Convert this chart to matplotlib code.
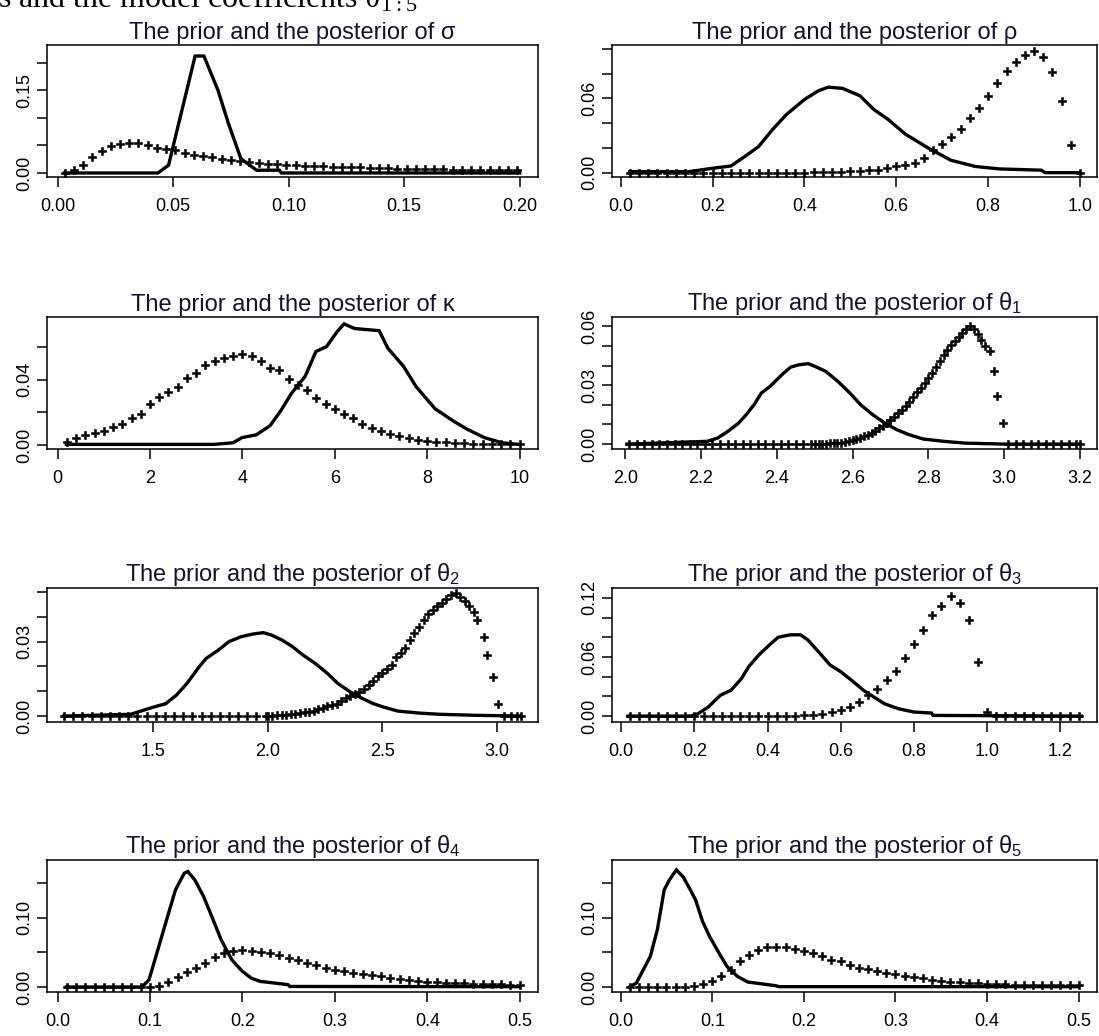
import matplotlib
matplotlib.use("Agg")
import matplotlib.pyplot as plt

plt.rcParams['font.family'] = ['Liberation Sans', 'DejaVu Sans']
plt.rcParams['mathtext.fontset'] = 'custom'
plt.rcParams['mathtext.rm'] = 'Liberation Sans'
plt.rcParams['mathtext.it'] = 'Liberation Sans'
plt.rcParams['mathtext.default'] = 'regular'

# ---- sigma ----
sig_post_x = [0.003, 0.0434, 0.048, 0.0541, 0.0595, 0.0633, 0.0694, 0.0739, 0.0793, 0.0861, 0.096, 0.0968, 0.2]
sig_post_y = [0.0, 0.0, 0.014, 0.119, 0.212, 0.212, 0.150, 0.090, 0.026, 0.005, 0.005, 0.0, 0.0]
sig_prior_x = [0.003, 0.007, 0.011, 0.015, 0.019, 0.023, 0.027, 0.031, 0.035, 0.039,
               0.043, 0.047, 0.051, 0.055, 0.059, 0.063, 0.067, 0.071, 0.075, 0.079,
               0.083, 0.087, 0.091, 0.095, 0.099, 0.103, 0.107, 0.111, 0.115, 0.119,
               0.123, 0.127, 0.131, 0.135, 0.139, 0.143, 0.147, 0.151, 0.155, 0.159,
               0.163, 0.167, 0.171, 0.175, 0.179, 0.183, 0.187, 0.191, 0.195, 0.199]
sig_prior_y = [0.000, 0.005, 0.014, 0.029, 0.040, 0.048, 0.053, 0.055, 0.054, 0.050,
               0.046, 0.043, 0.041, 0.037, 0.033, 0.030, 0.029, 0.026, 0.023, 0.021,
               0.020, 0.018, 0.017, 0.016, 0.015, 0.014, 0.013, 0.013, 0.012, 0.011,
               0.011, 0.010, 0.010, 0.009, 0.009, 0.009, 0.008, 0.008, 0.008, 0.007,
               0.007, 0.007, 0.006, 0.006, 0.006, 0.006, 0.005, 0.005, 0.005, 0.005]

# ---- rho ----
rho_post_x = [0.02, 0.148, 0.199, 0.24, 0.27, 0.30, 0.331, 0.361, 0.40, 0.43, 0.452, 0.483,
              0.521, 0.551, 0.582, 0.62, 0.669, 0.719, 0.772, 0.825, 0.916, 0.924, 1.0]
rho_post_y = [0.0008, 0.0008, 0.0035, 0.0054, 0.013, 0.021, 0.035, 0.047, 0.059, 0.066, 0.069, 0.068,
              0.062, 0.051, 0.043, 0.031, 0.020, 0.010, 0.005, 0.003, 0.002, 0.0, 0.0]
rho_prior_x = [0.02, 0.04, 0.06, 0.08, 0.10, 0.12, 0.14, 0.16, 0.18, 0.20,
               0.22, 0.24, 0.26, 0.28, 0.30, 0.32, 0.34, 0.36, 0.38, 0.40,
               0.42, 0.44, 0.46, 0.48, 0.50, 0.52, 0.54, 0.56, 0.58, 0.60,
               0.62, 0.64, 0.66, 0.68, 0.70, 0.72, 0.74, 0.76, 0.78, 0.80,
               0.82, 0.84, 0.86, 0.88, 0.90, 0.92, 0.94, 0.96, 0.98, 1.00]
rho_prior_y = [0.0, 0.0, 0.0, 0.0, 0.0, 0.0, 0.0, 0.0, 0.0, 0.0,
               0.0, 0.0, 0.0, 0.0, 0.0, 0.0, 0.0, 0.0, 0.0, 0.0001,
               0.0002, 0.0003, 0.0005, 0.0008, 0.001, 0.0015, 0.002, 0.0025, 0.0035, 0.005,
               0.0065, 0.008, 0.012, 0.018, 0.023, 0.029, 0.035, 0.044, 0.052, 0.062,
               0.072, 0.082, 0.089, 0.095, 0.098, 0.093, 0.081, 0.058, 0.022, 0.0]

# ---- kappa ----
kap_post_x = [0.19, 3.38, 3.80, 3.99, 4.30, 4.60, 4.83, 5.06, 5.36, 5.59, 5.82, 6.05,
              6.20, 6.43, 6.96, 7.15, 7.49, 7.76, 8.17, 8.55, 8.86, 9.24, 9.62, 9.98]
kap_post_y = [0.0006, 0.0006, 0.0016, 0.0047, 0.0064, 0.012, 0.021, 0.0315, 0.042, 0.057, 0.060, 0.069,
              0.0738, 0.071, 0.0697, 0.059, 0.048, 0.0357, 0.0223, 0.0151, 0.0099, 0.0047, 0.0016, 0.0006]
kap_prior_x = [0.2, 0.4, 0.6, 0.8, 1.0, 1.2, 1.4, 1.6, 1.8, 2.0,
               2.2, 2.4, 2.6, 2.8, 3.0, 3.2, 3.4, 3.6, 3.8, 4.0,
               4.2, 4.4, 4.6, 4.8, 5.0, 5.2, 5.4, 5.6, 5.8, 6.0,
               6.2, 6.4, 6.6, 6.8, 7.0, 7.2, 7.4, 7.6, 7.8, 8.0,
               8.2, 8.4, 8.6, 8.8, 9.0, 9.2, 9.4, 9.6, 9.8, 10.0]
kap_prior_y = [0.0023, 0.0047, 0.0064, 0.0078, 0.0089, 0.0109, 0.013, 0.0167, 0.0192, 0.0254,
               0.0295, 0.0326, 0.0357, 0.0408, 0.0439, 0.049, 0.0511, 0.0532, 0.0546, 0.0553,
               0.0546, 0.0511, 0.047, 0.046, 0.0402, 0.0367, 0.0336, 0.029, 0.025, 0.0223,
               0.019, 0.0165, 0.013, 0.0105, 0.0089, 0.007, 0.0055, 0.0045, 0.0035, 0.0027,
               0.0022, 0.0018, 0.0015, 0.0012, 0.0011, 0.001, 0.0009, 0.0008, 0.0007, 0.0006]

# ---- theta1 ----
th1_post_x = [2.005, 2.216, 2.244, 2.271, 2.299, 2.317, 2.340, 2.359, 2.382, 2.400, 2.418, 2.437, 2.460, 2.483,
              2.501, 2.529, 2.561, 2.593, 2.621, 2.653, 2.685, 2.717, 2.749, 2.786, 2.841, 2.897, 3.0, 3.2]
th1_post_y = [0.0, 0.0014, 0.0031, 0.0065, 0.0107, 0.0145, 0.0201, 0.026, 0.0294, 0.0328, 0.0362, 0.0393, 0.0405, 0.041,
              0.0396, 0.0371, 0.032, 0.026, 0.0201, 0.015, 0.0107, 0.0073, 0.0048, 0.0026, 0.0014, 0.0005, 0.0, 0.0]
th1_prior_x = [2.01, 2.03, 2.05, 2.07, 2.09, 2.11, 2.13, 2.15, 2.17, 2.19, 2.21, 2.23, 2.25,
               2.27, 2.29, 2.31, 2.33, 2.35, 2.37, 2.39, 2.41, 2.43, 2.45, 2.47, 2.49,
               2.50, 2.51, 2.52, 2.53, 2.54, 2.55, 2.56, 2.57, 2.58, 2.59, 2.60, 2.61, 2.62,
               2.63, 2.64, 2.65, 2.66, 2.67, 2.68, 2.69, 2.70, 2.71, 2.72, 2.73, 2.74, 2.75,
               2.76, 2.77, 2.78, 2.79, 2.80, 2.81, 2.82, 2.83, 2.84, 2.85, 2.86, 2.87, 2.88,
               2.89, 2.90, 2.91, 2.92, 2.93, 2.94, 2.95, 2.963, 2.972, 2.981, 2.998,
               3.01, 3.03, 3.05, 3.07, 3.09, 3.11, 3.13, 3.15, 3.17, 3.19, 3.20]
th1_prior_y = [0.0, 0.0, 0.0, 0.0, 0.0, 0.0, 0.0, 0.0, 0.0, 0.0, 0.0, 0.0, 0.0,
               0.0, 0.0, 0.0, 0.0, 0.0, 0.0, 0.0, 0.0, 0.0, 0.0, 0.0, 0.0,
               0.0002, 0.0002, 0.0003, 0.0003, 0.0004, 0.0005, 0.0006, 0.0008, 0.0011, 0.0015, 0.0019, 0.0024, 0.0031,
               0.0039, 0.0047, 0.0055, 0.0067, 0.008, 0.0093, 0.0107, 0.0123, 0.014, 0.0157, 0.0175, 0.0195, 0.0215,
               0.024, 0.0265, 0.0288, 0.0311, 0.0336, 0.0362, 0.0392, 0.0422, 0.0452, 0.0481, 0.0503, 0.0524, 0.0545,
               0.0566, 0.0585, 0.060, 0.0585, 0.056, 0.053, 0.050, 0.0473, 0.0371, 0.0243, 0.0107,
               0.0, 0.0, 0.0, 0.0, 0.0, 0.0, 0.0, 0.0, 0.0, 0.0, 0.0]

# ---- theta2 ----
th2_post_x = [1.108, 1.40, 1.50, 1.554, 1.60, 1.646, 1.70, 1.73, 1.784, 1.830, 1.884, 1.937, 1.98, 2.014, 2.06,
              2.107, 2.153, 2.207, 2.26, 2.306, 2.36, 2.406, 2.46, 2.506, 2.568, 2.66, 2.752, 2.906, 3.105]
th2_post_y = [0.0, 0.0007, 0.0036, 0.005, 0.0084, 0.0131, 0.0199, 0.0232, 0.0266, 0.030, 0.032, 0.0331, 0.0336, 0.0327, 0.0307,
              0.028, 0.0246, 0.0212, 0.0172, 0.0131, 0.0097, 0.0074, 0.005, 0.0036, 0.002, 0.0012, 0.0007, 0.0003, 0.0]
th2_prior_x = [1.11, 1.15, 1.19, 1.23, 1.27, 1.31, 1.35, 1.39, 1.43, 1.47, 1.51, 1.55, 1.59,
               1.63, 1.67, 1.71, 1.75, 1.79, 1.83, 1.87, 1.91, 1.95, 1.99,
               2.00, 2.02, 2.04, 2.06, 2.08, 2.10, 2.12, 2.14, 2.16, 2.18, 2.20, 2.22, 2.24,
               2.26, 2.28, 2.30, 2.32, 2.34, 2.36, 2.38, 2.40, 2.42, 2.44, 2.46, 2.48, 2.50,
               2.52, 2.54, 2.56, 2.58, 2.60, 2.62, 2.64, 2.66, 2.68, 2.70, 2.72, 2.74, 2.76,
               2.78, 2.80, 2.82, 2.84, 2.86, 2.88, 2.90, 2.913, 2.944, 2.959, 2.982, 3.005,
               3.03, 3.06, 3.09, 3.105]
th2_prior_y = [0.0, 0.0, 0.0, 0.0, 0.0, 0.0, 0.0, 0.0, 0.0, 0.0, 0.0, 0.0, 0.0,
               0.0, 0.0, 0.0, 0.0, 0.0, 0.0, 0.0, 0.0, 0.0, 0.0,
               0.0001, 0.0002, 0.0003, 0.0004, 0.0005, 0.0007, 0.0009, 0.0012, 0.0015, 0.0018, 0.002, 0.0027, 0.0033,
               0.0039, 0.0045, 0.005, 0.0062, 0.0072, 0.0082, 0.009, 0.0097, 0.011, 0.0125, 0.0143, 0.016, 0.0174,
               0.019, 0.0207, 0.0236, 0.0256, 0.0276, 0.0307, 0.0334, 0.036, 0.0388, 0.041, 0.0428, 0.0442, 0.0455,
               0.047, 0.0489, 0.0496, 0.048, 0.0462, 0.0442, 0.042, 0.0388, 0.032, 0.0246, 0.0158, 0.005,
               0.0, 0.0, 0.0, 0.0]

# ---- theta3 ----
th3_post_x = [0.019, 0.19, 0.21, 0.238, 0.271, 0.30, 0.329, 0.348, 0.376, 0.41, 0.429, 0.462, 0.49,
              0.51, 0.543, 0.571, 0.60, 0.629, 0.662, 0.69, 0.719, 0.757, 0.80, 0.848, 0.852, 1.257]
th3_post_y = [0.0, 0.0, 0.0024, 0.0092, 0.0211, 0.0262, 0.0382, 0.050, 0.062, 0.0739, 0.080, 0.0825, 0.0825,
              0.0773, 0.0637, 0.0518, 0.045, 0.0365, 0.0262, 0.0194, 0.0126, 0.0075, 0.0041, 0.0031, 0.0007, 0.0]
th3_prior_x = [0.025, 0.05, 0.075, 0.10, 0.125, 0.15, 0.175, 0.20, 0.225, 0.25,
               0.275, 0.30, 0.325, 0.35, 0.375, 0.40, 0.425, 0.45, 0.475, 0.50,
               0.525, 0.55, 0.575, 0.60, 0.625, 0.65, 0.675, 0.70, 0.725, 0.75,
               0.775, 0.80, 0.825, 0.85, 0.875, 0.90, 0.925, 0.95, 0.975, 1.00,
               1.025, 1.05, 1.075, 1.10, 1.125, 1.15, 1.175, 1.20, 1.225, 1.25]
th3_prior_y = [0.0, 0.0, 0.0, 0.0, 0.0, 0.0, 0.0, 0.0, 0.0, 0.0,
               0.0, 0.0, 0.0, 0.0, 0.0, 0.0, 0.0, 0.0, 0.0003, 0.0007,
               0.0012, 0.0017, 0.0041, 0.0058, 0.0092, 0.0143, 0.0211, 0.0273, 0.0365, 0.0457,
               0.0586, 0.0729, 0.0876, 0.1029, 0.1114, 0.1223, 0.1148, 0.0978, 0.0552, 0.0041,
               0.0, 0.0, 0.0, 0.0, 0.0, 0.0, 0.0, 0.0, 0.0, 0.0]

# ---- theta4 ----
th4_post_x = [0.0095, 0.0914, 0.099, 0.1085, 0.118, 0.1276, 0.1371, 0.141, 0.1485, 0.158,
              0.1676, 0.177, 0.1885, 0.20, 0.2094, 0.219, 0.2494, 0.2513, 0.5]
th4_post_y = [0.0, 0.0, 0.0106, 0.0538, 0.0971, 0.1404, 0.1644, 0.1668, 0.1548, 0.1308,
              0.0995, 0.0683, 0.0394, 0.0226, 0.013, 0.0082, 0.0034, 0.0008, 0.0005]
grid_01 = [0.01, 0.02, 0.03, 0.04, 0.05, 0.06, 0.07, 0.08, 0.09, 0.10,
           0.11, 0.12, 0.13, 0.14, 0.15, 0.16, 0.17, 0.18, 0.19, 0.20,
           0.21, 0.22, 0.23, 0.24, 0.25, 0.26, 0.27, 0.28, 0.29, 0.30,
           0.31, 0.32, 0.33, 0.34, 0.35, 0.36, 0.37, 0.38, 0.39, 0.40,
           0.41, 0.42, 0.43, 0.44, 0.45, 0.46, 0.47, 0.48, 0.49, 0.50]
th4_prior_y = [0.0, 0.0, 0.0, 0.0, 0.0, 0.0, 0.0, 0.0, 0.0, 0.0,
               0.0019, 0.0067, 0.0144, 0.0212, 0.0274, 0.0346, 0.0433, 0.049, 0.0514, 0.0538,
               0.0524, 0.0505, 0.049, 0.0457, 0.0418, 0.0385, 0.0346, 0.0313, 0.0274, 0.025,
               0.0226, 0.0202, 0.0192, 0.0178, 0.0154, 0.013, 0.0115, 0.0096, 0.0087, 0.0077,
               0.0067, 0.0063, 0.0058, 0.0053, 0.0048, 0.0043, 0.0038, 0.0038, 0.0034, 0.0034]

# ---- theta5 ----
th5_post_x = [0.0095, 0.0171, 0.0247, 0.0323, 0.040, 0.0475, 0.0532, 0.0608, 0.0684, 0.076,
              0.0817, 0.0894, 0.097, 0.1084, 0.116, 0.1274, 0.1388, 0.1692, 0.173, 0.5]
th5_post_y = [0.0, 0.0058, 0.025, 0.0442, 0.0827, 0.1404, 0.1548, 0.1692, 0.1587, 0.1404,
              0.126, 0.0947, 0.0731, 0.0466, 0.0298, 0.0154, 0.0072, 0.0019, 0.0005, 0.0005]
th5_prior_y = [0.0, 0.0, 0.0, 0.0, 0.0, 0.0, 0.0, 0.0019, 0.0048, 0.0082,
               0.0154, 0.025, 0.037, 0.0466, 0.0538, 0.0577, 0.0577, 0.0572, 0.0553, 0.0514,
               0.049, 0.0452, 0.0394, 0.037, 0.0322, 0.0274, 0.026, 0.0226, 0.0202, 0.0188,
               0.0163, 0.0139, 0.0125, 0.0106, 0.0082, 0.0072, 0.0067, 0.0058, 0.0053, 0.0048,
               0.0043, 0.0038, 0.0034, 0.0034, 0.0029, 0.0029, 0.0024, 0.0024, 0.0024, 0.0024]

titles = ["The prior and the posterior of σ", "The prior and the posterior of ρ",
          "The prior and the posterior of κ", "The prior and the posterior of $\\theta_1$",
          "The prior and the posterior of $\\theta_2$", "The prior and the posterior of $\\theta_3$",
          "The prior and the posterior of $\\theta_4$", "The prior and the posterior of $\\theta_5$"]

panels = [
    (sig_post_x, sig_post_y, sig_prior_x, sig_prior_y, (-0.0046, 0.2079), (-0.0073, 0.232),
     [0, 0.05, 0.10, 0.15, 0.20], ["0.00", "0.05", "0.10", "0.15", "0.20"],
     [0, 0.05, 0.10, 0.15, 0.20], ["0.00", "", "", "0.15", ""]),
    (rho_post_x, rho_post_y, rho_prior_x, rho_prior_y, (-0.019, 1.037), (-0.0035, 0.103),
     [0, 0.2, 0.4, 0.6, 0.8, 1.0], ["0.0", "0.2", "0.4", "0.6", "0.8", "1.0"],
     [0, 0.02, 0.04, 0.06, 0.08, 0.10], ["0.00", "", "", "0.06", "", ""]),
    (kap_post_x, kap_post_y, kap_prior_x, kap_prior_y, (-0.23, 10.4), (-0.0022, 0.078),
     [0, 2, 4, 6, 8, 10], ["0", "2", "4", "6", "8", "10"],
     [0, 0.02, 0.04, 0.06], ["0.00", "", "0.04", ""]),
    (th1_post_x, th1_post_y, th1_prior_x, th1_prior_y, (1.965, 3.245), (-0.0025, 0.0648),
     [2.0, 2.2, 2.4, 2.6, 2.8, 3.0, 3.2], ["2.0", "2.2", "2.4", "2.6", "2.8", "3.0", "3.2"],
     [0, 0.01, 0.02, 0.03, 0.04, 0.05, 0.06], ["0.00", "", "", "0.03", "", "", "0.06"]),
    (th2_post_x, th2_post_y, th2_prior_x, th2_prior_y, (1.035, 3.18), (-0.0024, 0.0516),
     [1.5, 2.0, 2.5, 3.0], ["1.5", "2.0", "2.5", "3.0"],
     [0, 0.01, 0.02, 0.03, 0.04, 0.05], ["0.00", "", "", "0.03", "", ""]),
    (th3_post_x, th3_post_y, th3_prior_x, th3_prior_y, (-0.025, 1.30), (-0.006, 0.130),
     [0, 0.2, 0.4, 0.6, 0.8, 1.0, 1.2], ["0.0", "0.2", "0.4", "0.6", "0.8", "1.0", "1.2"],
     [0, 0.02, 0.04, 0.06, 0.08, 0.10, 0.12], ["0.00", "", "", "0.06", "", "", "0.12"]),
    (th4_post_x, th4_post_y, grid_01, th4_prior_y, (-0.0114, 0.5198), (-0.0072, 0.1835),
     [0, 0.1, 0.2, 0.3, 0.4, 0.5], ["0.0", "0.1", "0.2", "0.3", "0.4", "0.5"],
     [0, 0.05, 0.10, 0.15], ["0.00", "", "0.10", ""]),
    (th5_post_x, th5_post_y, grid_01, th5_prior_y, (-0.0095, 0.52), (-0.0072, 0.1835),
     [0, 0.1, 0.2, 0.3, 0.4, 0.5], ["0.0", "0.1", "0.2", "0.3", "0.4", "0.5"],
     [0, 0.05, 0.10, 0.15], ["0.00", "", "0.10", ""]),
]

W, H = 1099, 1036
fig = plt.figure(figsize=(W / 100, H / 100), dpi=100)

cols = [(47, 538), (612, 1097)]
rows = [(45, 177), (317, 449), (588, 722), (860, 992)]

# the page caption above the figure, cut by the top edge as in the scan
fig.text(-2 / W, 1 - 8 / H, "s and the model coefficients $\\theta_{1:5}$",
         family="Liberation Serif", fontsize=23, va="baseline", ha="left")

for i, p in enumerate(panels):
    px, py, qx, qy, xl, yl, xt, xtl, yt, ytl = p
    c0, c1 = cols[i % 2]
    r0, r1 = rows[i // 2]
    ax = fig.add_axes([c0 / W, 1 - r1 / H, (c1 - c0) / W, (r1 - r0) / H])
    ax.plot(px, py, color="black", lw=2.4, solid_joinstyle="miter")
    ax.plot(qx, qy, linestyle="none", marker="P", ms=5.5, color="black",
            mec="black", mew=0.4)
    ax.set_xlim(*xl)
    ax.set_ylim(*yl)
    ax.set_xticks(xt)
    ax.set_xticklabels(xtl)
    ax.set_yticks(yt)
    ax.set_yticklabels(ytl)
    for s in ax.spines.values():
        s.set_linewidth(1.1)
    ax.tick_params(axis="x", direction="out", length=7, width=1.1, labelsize=13, pad=8)
    ax.tick_params(axis="y", direction="out", length=7, width=1.1, labelsize=13, pad=3,
                   labelrotation=90)
    for lab in ax.get_yticklabels():
        lab.set_va("center")
    ax.set_title(titles[i], fontsize=17, pad=4, color="#141428")

fig.savefig("out.png", dpi=100)
